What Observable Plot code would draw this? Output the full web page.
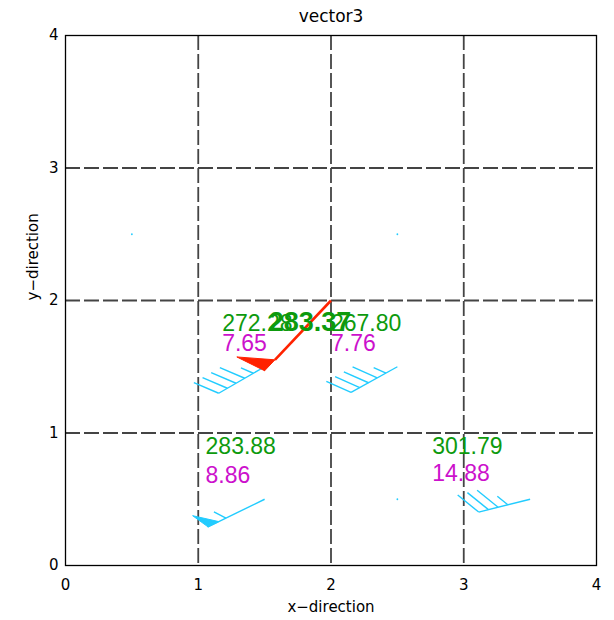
<!DOCTYPE html>
<html><head><meta charset="utf-8">
<script src="https://cdn.jsdelivr.net/npm/d3@7"></script>
<script src="https://cdn.jsdelivr.net/npm/@observablehq/plot@0.6"></script>
<style>body{margin:0;background:#fff;} svg{display:block}</style>
</head><body><div id="chart"></div>
<script>
// ---- data ----
const xTicks = [0, 1, 2, 3, 4];
const yTicks = [0, 1, 2, 3, 4];
const gridX = [1, 2, 3];
const gridY = [1, 2, 3];
const calmX = [0.5, 2.5, 2.5];
const calmY = [2.5, 2.5, 0.5];
const barbX = [1.5, 2.5, 1.5, 3.5];
const barbY = [1.5, 1.5, 0.5, 0.5];
const barbDir = [210, 209, 206, 194];      // staff direction (deg, math convention)
const barbFull = [4, 4, 0, 3];
const barbHalf = [1, 1, 1, 1];
const barbFlag = [0, 0, 1, 0];
const arrowX = [2], arrowY = [2], arrowU = [-0.5], arrowV = [-0.53];
const tempText = ["272.28", "267.80", "283.88", "301.79"];
const tempX = [1.18, 2.0, 1.055, 2.762];
const tempY = [1.823, 1.823, 0.894, 0.894];
const speedText = ["7.65", "7.76", "8.86", "14.88"];
const speedX = [1.18, 2.0, 1.055, 2.762];
const speedY = [1.673, 1.673, 0.679, 0.691];
const maxText = ["283.37"], maxX = [1.531], maxY = [1.834];

// ---- layout ----
const W = 614, H = 620, mL = 65, mR = 18, mT = 35, mB = 55;
const kx = (W - mL - mR) / 4, ky = (H - mT - mB) / 4;
const rad = Math.PI / 180;
function off(p, ang, len) {
  return [p[0] + len * Math.cos(ang * rad) / kx, p[1] + len * Math.sin(ang * rad) / ky];
}

// ---- barb geometry (from station data) ----
const STAFF = 53, FLAGEXT = 10, SPACE = 10, BLEN = 27, BANG = 53;
const segs = [], polys = [];
barbX.forEach((bx, i) => {
  const A = [bx, barbY[i]], th = barbDir[i];
  const L = STAFF + (barbFlag[i] ? FLAGEXT : 0);
  const P = d => off(A, th, d);
  const E = P(L);
  segs.push({x1: A[0], y1: A[1], x2: E[0], y2: E[1]});
  let d = L;
  for (let k = 0; k < barbFlag[i]; k++) {
    const p0 = P(d), tip = off(p0, th - 62, 19), p1 = P(d - 12);
    [p0, tip, p1, p0].forEach(q => polys.push({id: "f" + i + k, x: q[0], y: q[1]}));
    d -= 20;
  }
  for (let k = 0; k < barbFull[i]; k++) {
    const p0 = P(d), q = off(p0, th - BANG, BLEN);
    segs.push({x1: p0[0], y1: p0[1], x2: q[0], y2: q[1]});
    d -= SPACE;
  }
  for (let k = 0; k < barbHalf[i]; k++) {
    const p0 = P(d), q = off(p0, th - BANG, BLEN * 0.5);
    segs.push({x1: p0[0], y1: p0[1], x2: q[0], y2: q[1]});
    d -= SPACE;
  }
});

// ---- red arrow ----
const arrows = [], heads = [];
arrowX.forEach((ax, i) => {
  const tip = [ax + arrowU[i], arrowY[i] + arrowV[i]];
  const back = Math.atan2(-arrowV[i] * ky, -arrowU[i] * kx) / rad;
  const B = off(tip, back, 15), C = off(tip, back + 107, 31);
  arrows.push({x1: ax, y1: arrowY[i], x2: B[0], y2: B[1]});
  [tip, B, C, tip].forEach(q => heads.push({id: "a" + i, x: q[0], y: q[1]}));
});

const idx = a => a.map((_, i) => i);
const axisFont = "DejaVu Sans, sans-serif";
const numFont = "Liberation Sans, Arial, sans-serif";

const chart = Plot.plot({
  width: W, height: H,
  marginLeft: mL, marginRight: mR, marginTop: mT, marginBottom: mB,
  style: {fontFamily: axisFont, fontSize: "15px", color: "#000", background: "#fff"},
  x: {domain: [0, 4], ticks: xTicks, tickSize: 0, tickPadding: 14, label: null, tickFormat: d => String(d)},
  y: {domain: [0, 4], ticks: yTicks, tickSize: 0, tickPadding: 7, label: null, tickFormat: d => String(d)},
  marks: [
    Plot.ruleX(gridX, {stroke: "#444", strokeWidth: 1.8, strokeDasharray: "15,4"}),
    Plot.ruleY(gridY, {stroke: "#444", strokeWidth: 1.8, strokeDasharray: "15,4"}),
    Plot.frame({stroke: "#000", strokeWidth: 1.3}),
    Plot.dot(idx(calmX), {x: i => calmX[i], y: i => calmY[i], r: 0.9, fill: "#22ccff", stroke: null}),
    Plot.link(segs, {x1: "x1", y1: "y1", x2: "x2", y2: "y2", stroke: "#22ccff", strokeWidth: 1.4}),
    Plot.line(polys, {x: "x", y: "y", z: "id", fill: "#22ccff", stroke: "#22ccff", strokeWidth: 1}),
    Plot.text(idx(tempText), {x: i => tempX[i], y: i => tempY[i], text: i => tempText[i], fill: "#0d9a0d",
      fontSize: 23, textAnchor: "start", lineAnchor: "middle", fontFamily: numFont}),
    Plot.text(idx(speedText), {x: i => speedX[i], y: i => speedY[i], text: i => speedText[i], fill: "#cc11cc",
      fontSize: 23, textAnchor: "start", lineAnchor: "middle", fontFamily: numFont}),
    Plot.link(arrows, {x1: "x1", y1: "y1", x2: "x2", y2: "y2", stroke: "#ff2200", strokeWidth: 2.6}),
    Plot.line(heads, {x: "x", y: "y", z: "id", fill: "#ff2200", stroke: "#ff2200", strokeWidth: 1}),
    Plot.text(idx(maxText), {x: i => maxX[i], y: i => maxY[i], text: i => maxText[i], fill: "#0d9a0d",
      fontSize: 27, fontWeight: "bold", textAnchor: "start", lineAnchor: "middle", fontFamily: numFont}),
    Plot.text(["vector3"], {frameAnchor: "top", dy: -19, lineAnchor: "middle", fontSize: 17, fill: "#000"}),
    Plot.text(["x\u2212direction"], {frameAnchor: "bottom", dy: 42, lineAnchor: "middle", fontSize: 15, fill: "#000"}),
    Plot.text(["y\u2212direction"], {frameAnchor: "left", dx: -32, rotate: -90, lineAnchor: "middle", fontSize: 15, fill: "#000"})
  ]
});
document.getElementById("chart").appendChild(chart);
</script>
</body></html>
